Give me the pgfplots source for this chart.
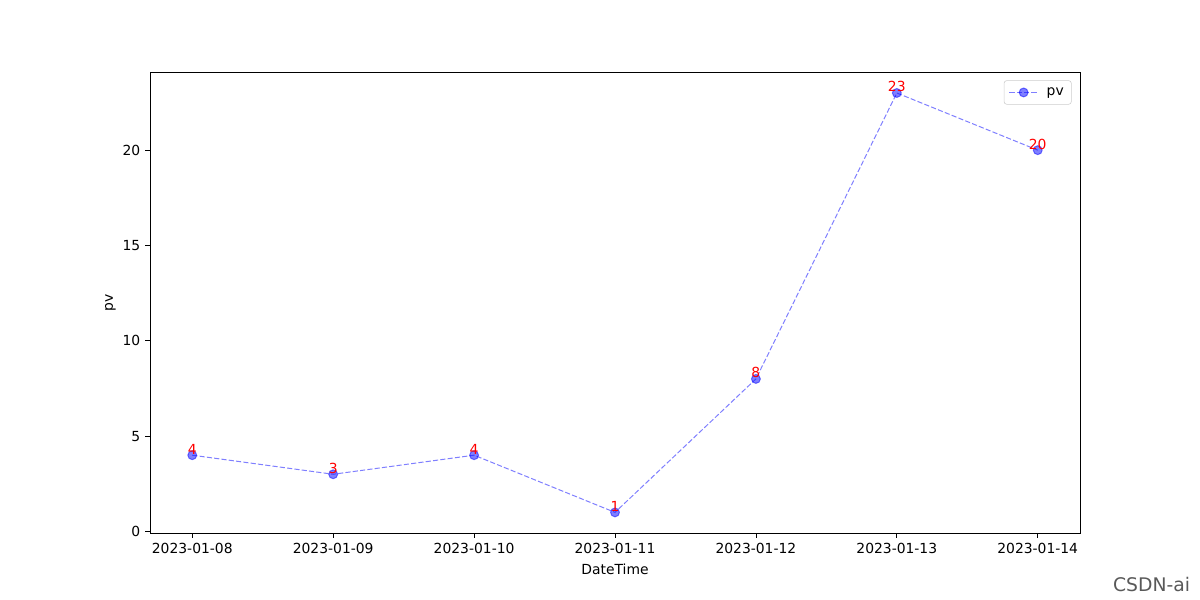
\documentclass[border=0pt]{standalone}
\usepackage{pgfplots}
\pgfplotsset{compat=1.18}
\usetikzlibrary{calc}
\usepackage{fontspec}
\setmainfont{DejaVu Sans}
\begin{document}
\begin{tikzpicture}[font=\fontsize{10pt}{12pt}\selectfont]
\begin{axis}[
  scale only axis,
  width=669.6pt, height=331.9pt,
  xmin=-0.3, xmax=6.3, ymin=-0.08, ymax=24.1,
  xtick={0,1,2,3,4,5,6},
  xticklabels={2023-01-08,2023-01-09,2023-01-10,2023-01-11,2023-01-12,2023-01-13,2023-01-14},
  ytick={0,5,10,15,20},
  tick align=outside, tick pos=left,
  major tick length=3.5pt,
  /pgf/number format/assume math mode=true,
  xlabel={DateTime}, ylabel={pv},
  xlabel style={yshift=-1pt},
  ylabel style={yshift=-2pt},
  axis line style={line width=0.6pt},
  every tick/.style={black, line width=0.6pt},
  legend style={draw=black!20, rounded corners=2pt, font=\fontsize{10pt}{12pt}\selectfont, at={(0.991,0.982)}, anchor=north east, inner xsep=3.5pt, inner ysep=3pt},
  legend cell align=left,
  legend image code/.code={\draw[mark repeat=2,mark phase=2] plot coordinates {(0cm,0cm)(0.36cm,0cm)(0.72cm,0cm)};},
]
\addplot[blue, opacity=0.5, dashed, dash pattern=on 3.7pt off 1.6pt, line width=0.72pt,
  mark=*, mark size=3.2pt, mark options={solid, fill=blue, draw=blue},
  nodes near coords, point meta=explicit symbolic,
  every node near coord/.style={anchor=south, inner sep=0.3pt, text=red, text opacity=1, font=\fontsize{10pt}{12pt}\selectfont}]
coordinates {(0,4)[4] (1,3)[3] (2,4)[4] (3,1)[1] (4,8)[8] (5,23)[23] (6,20)[20]};
\addlegendentry{\hspace{4pt}pv}
\end{axis}
\path (current axis.south west) ++(-108pt,-48.24pt) coordinate (bl);
\path (current axis.north east) ++(86.4pt,51.84pt) coordinate (tr);
\path[use as bounding box] (bl) rectangle (tr);
\node[anchor=south east, text=black!65, font=\fontsize{13.5pt}{15pt}\selectfont, inner sep=0pt] at ($(tr |- bl)+(-7pt,6pt)$) {CSDN-ai};
\end{tikzpicture}
\end{document}
